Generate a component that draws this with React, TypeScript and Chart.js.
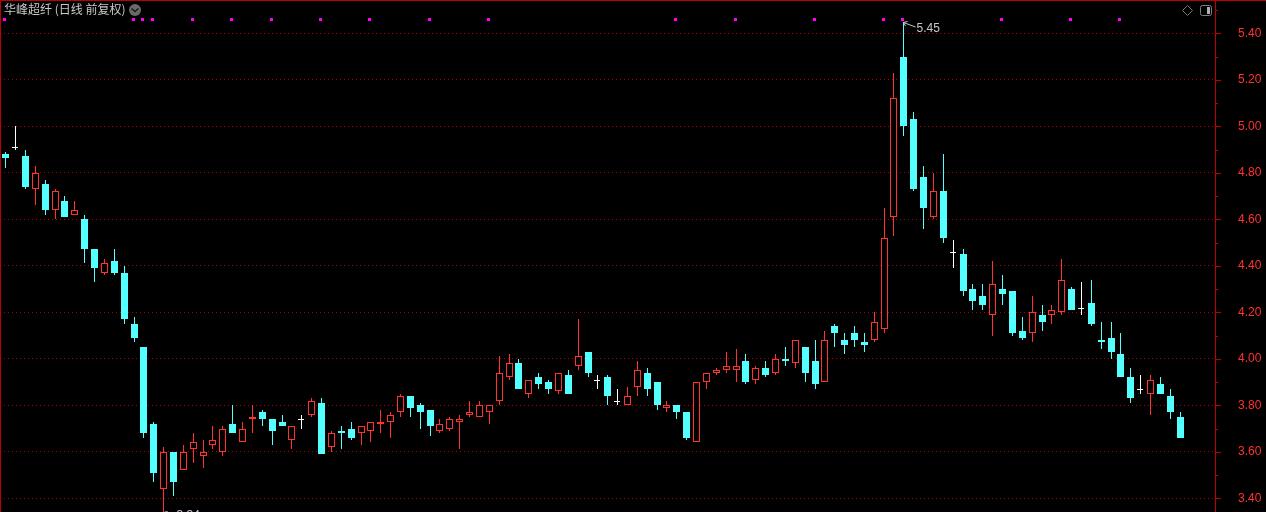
import React, { useEffect, useRef } from "react";
import { Chart, registerables } from "chart.js";

Chart.register(...registerables);

const opens = [4.88,4.91,4.87,4.73,4.75,4.64,4.68,4.62,4.60,4.47,4.37,4.42,4.37,4.15,4.05,3.72,3.44,3.60,3.52,3.61,3.58,3.63,3.60,3.72,3.64,3.74,3.77,3.74,3.73,3.65,3.74,3.76,3.81,3.62,3.69,3.70,3.68,3.69,3.72,3.73,3.77,3.84,3.80,3.78,3.69,3.70,3.73,3.76,3.75,3.77,3.82,3.92,3.98,3.85,3.92,3.90,3.86,3.93,3.97,4.03,3.91,3.92,3.82,3.80,3.88,3.94,3.90,3.79,3.80,3.77,3.64,3.90,3.94,3.95,3.95,3.99,3.91,3.96,3.94,4.00,3.98,4.05,3.99,3.90,4.14,4.08,4.11,4.07,4.08,4.13,4.61,5.30,5.03,4.78,4.61,4.72,4.46,4.45,4.30,4.27,4.19,4.30,4.29,4.12,4.11,4.19,4.19,4.20,4.30,4.22,4.24,4.08,4.09,4.02,3.92,3.87,3.85,3.89,3.84,3.75];
const closes = [4.865,4.91,4.74,4.80,4.64,4.72,4.61,4.64,4.47,4.39,4.41,4.37,4.17,4.09,3.68,3.51,3.60,3.47,3.60,3.64,3.60,3.65,3.70,3.68,3.70,3.75,3.74,3.69,3.71,3.71,3.74,3.82,3.59,3.68,3.68,3.66,3.71,3.73,3.73,3.76,3.84,3.79,3.77,3.71,3.72,3.74,3.74,3.77,3.80,3.80,3.94,3.98,3.87,3.91,3.89,3.87,3.94,3.85,4.01,3.94,3.91,3.84,3.82,3.84,3.95,3.87,3.80,3.80,3.77,3.66,3.90,3.94,3.95,3.97,3.97,3.90,3.96,3.93,4.00,3.99,4.08,3.94,3.89,4.08,4.11,4.06,4.08,4.06,4.16,4.52,5.12,5.00,4.73,4.65,4.72,4.52,4.46,4.29,4.25,4.23,4.32,4.28,4.11,4.09,4.20,4.16,4.21,4.34,4.21,4.22,4.15,4.07,4.03,3.92,3.83,3.87,3.91,3.85,3.77,3.66];
const highs = [4.89,5.00,4.90,4.83,4.77,4.73,4.70,4.68,4.62,4.47,4.43,4.47,4.40,4.18,4.05,3.73,3.62,3.60,3.63,3.68,3.65,3.71,3.71,3.80,3.73,3.80,3.78,3.74,3.76,3.71,3.76,3.83,3.83,3.69,3.71,3.73,3.71,3.73,3.78,3.77,3.85,3.84,3.81,3.78,3.74,3.75,3.76,3.82,3.82,3.80,4.01,4.02,4.00,3.91,3.94,3.91,3.94,3.95,4.17,4.03,3.93,3.93,3.87,3.88,3.99,3.96,3.90,3.82,3.80,3.77,3.90,3.94,3.96,4.03,4.04,4.02,3.97,3.99,4.02,4.05,4.08,4.05,4.08,4.12,4.15,4.11,4.14,4.11,4.20,4.65,5.23,5.45,5.06,4.83,4.80,4.88,4.51,4.47,4.32,4.32,4.42,4.36,4.29,4.18,4.27,4.23,4.23,4.43,4.31,4.33,4.34,4.16,4.16,4.11,3.96,3.93,3.93,3.92,3.87,3.77];
const lows = [4.82,4.90,4.73,4.66,4.62,4.60,4.61,4.62,4.41,4.33,4.36,4.36,4.15,4.07,3.66,3.47,3.34,3.41,3.52,3.55,3.53,3.61,3.58,3.68,3.64,3.68,3.71,3.63,3.71,3.61,3.70,3.75,3.59,3.60,3.61,3.65,3.63,3.64,3.68,3.66,3.75,3.75,3.70,3.67,3.68,3.69,3.61,3.75,3.75,3.72,3.80,3.91,3.87,3.83,3.87,3.85,3.85,3.85,3.95,3.92,3.87,3.80,3.80,3.80,3.84,3.84,3.78,3.77,3.74,3.65,3.64,3.87,3.93,3.94,3.90,3.89,3.89,3.92,3.93,3.97,3.96,3.90,3.87,3.90,4.05,4.02,4.05,4.03,4.07,4.11,4.53,4.96,4.72,4.56,4.60,4.50,4.39,4.27,4.21,4.21,4.10,4.23,4.10,4.08,4.07,4.12,4.15,4.19,4.21,4.19,4.14,4.04,4.00,3.92,3.81,3.85,3.76,3.85,3.74,3.66];
const signalDays = [0,13,14,15,19,23,27,32,37,43,49,68,74,82,89,91,101,108,113];
const signalPrice = 5.46;
const yTicks = [3.4,3.6,3.8,4.0,4.2,4.4,4.6,4.8,5.0,5.2,5.4];
const titleText = "华峰超纤 (日线 前复权)";

const RED = "#ff3232";
const CYAN = "#54ffff";
const FRAME = "#c00000";
const GRID = "#b00000";
const days = opens.map((_, i) => i);

const colorOf = (i: number) =>
  closes[i] > opens[i] ? RED : closes[i] < opens[i] ? CYAN : "#ffffff";
const fillOf = (i: number) => (closes[i] > opens[i] ? "#000000" : colorOf(i));

const candlePlugin = {
  id: "candleSnap",
  beforeDatasetsDraw(chart: any) {
    chart.getSortedVisibleDatasetMetas().forEach((meta: any) => {
      const role = meta._dataset.role;
      meta.data.forEach((el: any, i: number) => {
        const col = Math.floor(el.x);
        if (role === "marker") {
          const row = Math.floor(el.y);
          el.x = col - 0.5;
          el.y = row - 1;
          el.base = row + 2;
          return;
        }
        const a = Math.round(el.y);
        let b = Math.round(el.base);
        if (a === b) b = a + 1;
        el.y = a;
        el.base = b;
        el.x = col + 0.5;
        if (role === "body" && opens[i] === closes[i]) {
          el.x = col;
          el.width = 6;
        }
      });
    });
  },
  afterDraw(chart: any) {
    const { ctx, scales } = chart;
    const y = scales.y;
    const x = scales.x;
    ctx.save();
    // frame
    ctx.fillStyle = FRAME;
    ctx.fillRect(0, 0, 1266, 1);
    ctx.fillRect(0, 0, 1, 512);
    ctx.fillRect(1215, 0, 1, 512);
    // minor and major axis ticks
    for (let k = 0; k < yTicks.length; k++) {
      const py = Math.round(y.getPixelForValue(yTicks[k]));
      ctx.fillRect(1216, py, 5, 1);
      const my = Math.round(y.getPixelForValue(yTicks[k] + 0.1));
      ctx.fillRect(1216, my, 2, 1);
    }
    // title
    ctx.textBaseline = "alphabetic";
    ctx.textAlign = "left";
    ctx.fillStyle = "#c8c8c8";
    ctx.font = '12px "Noto Sans CJK SC"';
    ctx.fillText(titleText, 4, 14);
    // drop-down button
    ctx.fillStyle = "#6a6a6a";
    ctx.beginPath();
    ctx.arc(135, 10, 6, 0, Math.PI * 2);
    ctx.fill();
    ctx.strokeStyle = "#1a1a1a";
    ctx.lineWidth = 1.5;
    ctx.beginPath();
    ctx.moveTo(131.5, 8.5);
    ctx.lineTo(135, 11.5);
    ctx.lineTo(138.5, 8.5);
    ctx.stroke();
    // top-right icons
    ctx.strokeStyle = "#7a7a7a";
    ctx.lineWidth = 1;
    ctx.beginPath();
    ctx.moveTo(1187.5, 5.5);
    ctx.lineTo(1192.5, 10.5);
    ctx.lineTo(1187.5, 15.5);
    ctx.lineTo(1182.5, 10.5);
    ctx.closePath();
    ctx.stroke();
    ctx.strokeStyle = "#808080";
    ctx.beginPath();
    ctx.roundRect(1200.5, 5.5, 11, 10, 2);
    ctx.stroke();
    ctx.fillStyle = "#b0b0b0";
    ctx.fillRect(1207, 7, 3, 7);
    // high / low callouts
    const idxHigh = highs.indexOf(Math.max(...highs));
    const idxLow = lows.indexOf(Math.min(...lows));
    const callout = (i: number, v: number, dy: number) => {
      const px = Math.floor(x.getPixelForValue(i)) + 0.5;
      const py = Math.round(y.getPixelForValue(v));
      ctx.strokeStyle = "#c8c8c8";
      ctx.lineWidth = 1;
      ctx.beginPath();
      ctx.moveTo(px, py + 0.5);
      ctx.lineTo(px + 12, py + 5);
      ctx.moveTo(px, py + 0.5);
      ctx.lineTo(px + 4, py - 0.5);
      ctx.moveTo(px, py + 0.5);
      ctx.lineTo(px + 2, py + 4);
      ctx.stroke();
      ctx.fillStyle = "#c8c8c8";
      ctx.font = '12px "Liberation Sans"';
      ctx.textBaseline = "middle";
      ctx.fillText(v.toFixed(2), px + 13, py + dy);
    };
    callout(idxHigh, highs[idxHigh], 7);
    callout(idxLow, lows[idxLow], 4);
    ctx.restore();
  },
};

export default function App() {
  const ref = useRef<HTMLCanvasElement>(null);
  useEffect(() => {
    document.body.style.margin = "0";
    document.body.style.background = "#000";
    const chart = new Chart(ref.current as HTMLCanvasElement, {
      type: "bar",
      plugins: [candlePlugin],
      data: {
        datasets: [
          {
            role: "wick",
            order: 2,
            data: days.map((d) => ({ x: d, y: [lows[d], highs[d]] })),
            backgroundColor: days.map(colorOf),
            borderWidth: 0,
            barThickness: 1,
            grouped: false,
            inflateAmount: 0,
          },
          {
            role: "body",
            order: 1,
            data: days.map((d) => ({ x: d, y: [opens[d], closes[d]] })),
            backgroundColor: days.map(fillOf),
            borderColor: days.map(colorOf),
            borderWidth: 1,
            borderSkipped: false,
            barThickness: 7,
            grouped: false,
            inflateAmount: 0,
          },
          {
            role: "marker",
            order: 0,
            data: signalDays.map((d) => ({ x: d, y: [signalPrice, signalPrice] })),
            backgroundColor: "#ff00ff",
            borderWidth: 0,
            barThickness: 3,
            grouped: false,
            inflateAmount: 0,
          },
        ] as any,
      },
      options: {
        animation: false,
        responsive: false,
        events: [],
        layout: { padding: 0, autoPadding: false },
        plugins: { legend: { display: false }, title: { display: false }, tooltip: { enabled: false } },
        scales: {
          x: {
            type: "linear",
            display: false,
            min: -0.5775,
            max: 122.63,
            offset: false,
          },
          y: {
            position: "right",
            min: 3.341,
            max: 5.543,
            afterFit: (s: any) => {
              s.width = 50;
              s.paddingTop = 0;
              s.paddingBottom = 0;
              s._margins.top = 0;
              s._margins.bottom = 0;
            },
            afterBuildTicks: (s: any) => {
              s.ticks = yTicks.map((value) => ({ value }));
            },
            border: { display: false, dash: [1, 3] },
            grid: {
              color: GRID,
              lineWidth: 1,
              drawTicks: false,
              z: 0,
            } as any,
            ticks: {
              color: RED,
              padding: 22,
              font: { family: '"Liberation Sans"', size: 12 },
              callback: (v: any) => Number(v).toFixed(2),
            },
          },
        },
      } as any,
    });
    return () => chart.destroy();
  }, []);
  return (
    <div style={{ width: 1266, height: 512, background: "#000", overflow: "hidden" }}>
      <canvas ref={ref} width={1266} height={512} style={{ display: "block" }} />
    </div>
  );
}
